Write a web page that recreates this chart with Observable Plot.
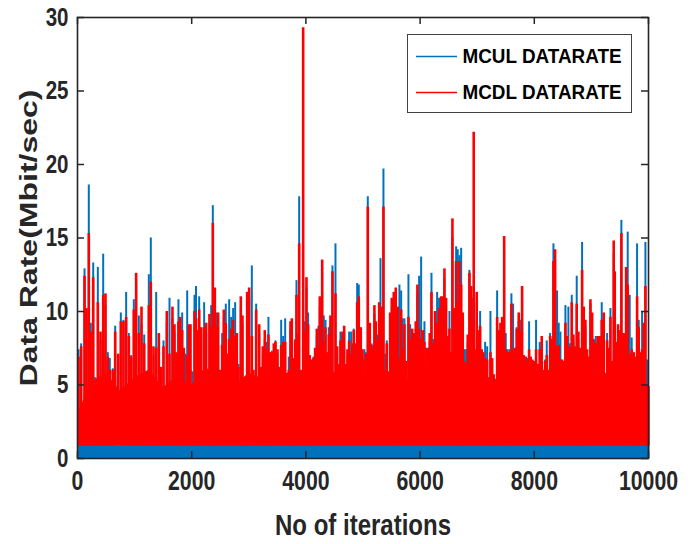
<!DOCTYPE html>
<html><head><meta charset="utf-8">
<script src="https://cdn.jsdelivr.net/npm/d3@7"></script>
<script src="https://cdn.jsdelivr.net/npm/@observablehq/plot@0.6"></script>
<style>body{margin:0;background:#fff}</style>
</head><body>
<script>
// x positions (iteration index) of the visible spikes
const iterations = [
  18,64,123,158,198,233,275,310,356,403,
  450,490,531,566,618,660,713,759,805,852,
  899,940,986,1027,1074,1121,1168,1208,1249,1284,
  1331,1378,1424,1465,1506,1564,1611,1663,1698,1733,
  1768,1798,1833,1862,1891,1921,1950,1979,2014,2049,
  2075,2096,2131,2166,2218,2253,2276,2311,2341,2370,
  2405,2434,2463,2498,2533,2562,2597,2627,2656,2691,
  2726,2761,2790,2819,2860,2889,2930,2971,3006,3053,
  3082,3129,3182,3217,3245,3280,3309,3344,3368,3403,
  3438,3467,3502,3532,3567,3602,3637,3672,3700,3730,
  3753,3782,3812,3835,3858,3882,3917,3952,3980,4010,
  4039,4068,4103,4132,4162,4191,4220,4243,4267,4285,
  4313,4343,4372,4401,4430,4465,4495,4518,4547,4576,
  4605,4640,4670,4699,4728,4757,4792,4815,4838,4868,
  4898,4926,4961,4990,5025,5049,5084,5119,5148,5178,
  5200,5224,5253,5283,5306,5329,5358,5388,5416,5446,
  5475,5504,5539,5574,5609,5638,5668,5696,5726,5755,
  5796,5826,5861,5896,5924,5953,5983,6018,6046,6076,
  6111,6141,6169,6199,6228,6263,6298,6333,6368,6397,
  6426,6455,6484,6514,6543,6566,6596,6631,6659,6689,
  6719,6747,6777,6806,6834,6864,6894,6922,6939,6964,
  6992,7022,7051,7079,7109,7139,7174,7202,7232,7261,
  7290,7319,7349,7378,7407,7437,7472,7500,7535,7570,
  7599,7629,7664,7692,7727,7757,7786,7815,7850,7880,
  7909,7937,7967,7996,8031,8060,8095,8130,8159,8189,
  8218,8247,8277,8305,8335,8364,8399,8428,8457,8487,
  8515,8545,8574,8597,8627,8656,8685,8715,8743,8772,
  8802,8837,8866,8895,8925,8953,8983,9013,9041,9076,
  9111,9146,9181,9216,9245,9275,9303,9333,9363,9391,
  9409,9438,9467,9496,9525,9555,9578,9608,9636,9671,
  9706,9741,9771,9800,9829,9858,9888,9917,9946,9975,
  9998
];
// MCUL (uplink) data rate at those iterations, Mbit/sec
const mculRate = [
  7.4,7.8,12.9,9.6,18.6,9.2,13.3,5.5,13.0,8.0,
  13.9,10.4,7.2,6.8,6.1,9.0,6.6,9.9,9.4,11.3,
  8.5,7.0,10.8,11.8,9.7,9.1,8.4,4.8,12.5,15.0,
  7.0,11.3,7.6,5.8,8.0,9.2,10.9,9.5,8.6,6.9,
  10.8,9.0,9.9,7.0,7.1,11.4,8.7,6.0,5.9,11.1,
  11.7,8.0,11.0,8.4,10.6,8.5,5.5,9.2,10.4,17.2,
  10.9,9.9,9.0,5.6,8.5,9.5,10.5,6.6,10.8,9.6,
  10.2,10.6,8.0,6.4,10.3,9.1,5.2,10.6,10.9,13.1,
  5.6,10.5,8.5,5.8,7.1,8.1,7.9,9.6,6.8,7.3,
  7.3,8.0,7.1,5.8,9.4,8.3,9.5,5.4,6.9,8.7,
  8.9,6.4,8.1,12.1,8.0,17.8,5.7,9.0,9.3,11.6,
  9.9,6.6,6.3,6.9,7.0,8.3,9.0,10.3,9.9,12.7,
  9.7,9.4,6.8,8.9,9.1,13.1,5.0,14.6,7.1,6.0,
  8.6,8.4,8.5,6.0,7.0,8.6,8.6,7.3,8.8,7.3,
  11.9,11.8,8.4,7.0,7.4,7.2,17.8,8.7,7.8,7.7,
  9.8,8.8,8.4,10.0,13.6,9.7,19.7,7.1,8.0,5.5,
  9.3,10.3,10.6,10.9,9.7,11.8,11.4,9.5,9.5,6.2,
  12.5,9.1,8.3,8.0,8.8,11.1,12.4,13.7,8.2,9.3,
  6.5,7.5,8.0,12.6,8.1,9.4,11.3,10.9,10.4,10.4,
  12.2,10.3,7.8,10.0,6.8,15.0,9.6,14.4,14.2,13.8,
  14.3,8.3,7.4,7.4,7.9,12.8,11.0,10.9,10.0,7.0,
  10.6,8.2,10.0,7.0,6.8,7.9,7.6,4.2,10.0,6.4,
  5.4,5.4,11.4,8.2,8.7,9.0,14.2,8.5,7.4,7.4,
  11.2,10.5,7.1,8.9,9.3,9.4,10.8,6.6,6.5,6.8,
  9.3,6.5,6.3,6.0,9.4,6.0,7.9,7.8,5.7,6.7,
  8.0,5.7,8.5,7.6,14.6,13.4,11.4,9.2,8.6,6.3,
  6.2,10.4,7.8,10.3,7.8,11.1,7.9,7.2,12.4,8.1,
  7.1,14.7,9.7,9.0,7.0,6.5,10.5,8.3,8.1,8.3,
  7.8,7.8,10.6,9.3,5.8,8.5,7.1,10.2,6.2,14.0,
  12.0,7.4,8.6,8.2,16.2,8.0,8.0,12.3,15.4,11.1,
  8.2,7.0,6.5,14.6,9.4,7.0,10.0,8.7,14.7,6.7,
  4.6
];
// MCDL (downlink) data rate at those iterations, Mbit/sec
const mcdlRate = [
  6.9,7.6,12.4,10.2,15.3,8.6,12.3,5.1,10.6,8.6,
  11.1,11.2,6.9,6.0,6.0,8.6,7.1,9.3,9.3,9.6,
  8.3,6.9,10.1,12.6,8.5,10.3,7.8,5.1,10.4,12.0,
  7.6,7.5,8.5,6.2,7.6,10.0,7.1,10.3,9.1,7.2,
  9.3,9.6,8.7,7.5,5.2,7.0,9.1,9.1,4.9,10.0,
  9.5,8.7,10.1,8.9,8.9,9.2,5.8,9.8,8.9,16.0,
  11.6,9.0,9.9,6.0,7.7,10.1,9.2,7.1,8.1,8.8,
  9.4,8.3,8.5,6.2,11.0,9.7,5.5,11.3,11.6,8.3,
  6.0,10.1,9.1,6.2,7.6,8.7,7.4,8.4,7.2,7.2,
  7.8,7.9,7.4,6.2,7.7,7.9,7.9,5.8,6.0,9.3,
  9.5,6.8,8.0,11.1,8.5,14.6,6.0,29.3,8.6,12.3,
  9.1,7.0,6.7,6.8,7.5,8.8,7.5,11.0,8.3,13.5,
  7.9,8.9,7.2,8.4,9.7,12.7,5.3,11.2,7.6,6.4,
  8.0,8.6,9.0,6.4,7.4,8.0,7.1,7.8,8.7,7.8,
  10.6,11.0,8.9,7.4,6.7,7.1,17.1,9.2,7.7,7.4,
  10.4,9.3,8.0,10.6,9.9,10.3,17.1,6.0,7.8,5.9,
  9.9,10.9,11.3,11.6,10.3,6.8,10.1,7.4,9.1,6.6,
  9.6,8.1,8.8,8.5,9.3,11.8,8.8,8.1,8.7,7.9,
  7.5,7.4,8.5,11.3,7.8,10.0,9.2,10.2,11.0,11.0,
  12.9,10.9,8.3,8.8,7.2,16.3,10.2,13.4,10.6,13.4,
  11.8,9.9,6.6,6.4,8.4,12.6,11.7,9.3,22.2,7.4,
  11.3,8.7,9.0,7.4,7.2,6.8,6.7,4.4,7.2,6.8,
  5.7,5.1,9.6,8.7,9.2,9.6,15.1,7.4,7.2,7.2,
  10.5,7.4,7.5,8.8,9.9,8.6,11.7,7.0,6.9,6.6,
  7.4,6.9,6.7,6.6,7.4,6.4,7.4,8.3,6.0,6.6,
  7.0,6.0,8.3,8.1,13.4,14.2,7.6,7.7,6.7,6.7,
  6.6,9.2,8.3,7.6,7.5,10.6,8.4,7.6,10.5,8.6,
  7.5,12.8,10.3,9.4,7.4,6.9,10.8,9.9,8.0,7.8,
  8.3,8.3,9.4,9.9,5.7,8.0,7.5,9.6,6.6,14.8,
  12.7,7.9,9.1,8.7,15.3,8.5,8.5,13.0,11.8,7.1,
  7.4,7.2,6.9,11.0,8.9,7.2,7.4,9.2,11.7,4.9,
  4.9
];
// dense lower envelope of both series, sampled every 250 iterations
const floorIterations = [
  0,250,500,750,1000,1250,1500,1750,2000,2250,
  2500,2750,3000,3250,3500,3750,4000,4250,4500,4750,
  5000,5250,5500,5750,6000,6250,6500,6750,7000,7250,
  7500,7750,8000,8250,8500,8750,9000,9250,9500,9750,
  10000
];
const mcdlFloor = [
  3.0,5.2,5.8,4.6,5.5,6.0,4.8,5.6,5.0,6.2,
  5.3,4.9,5.8,5.4,6.1,5.0,5.7,4.7,5.9,5.2,
  5.6,6.0,5.1,5.5,4.8,5.9,5.3,6.2,5.0,5.6,
  4.6,5.4,5.1,5.8,4.9,5.5,5.7,5.2,5.9,5.0,
  4.4
];
const mculFloor = [
  0.9,0.95,0.9,0.85,0.9,0.95,0.9,0.9,0.95,0.9,
  0.85,0.9,0.95,0.9,0.9,0.85,0.95,0.9,0.9,0.95,
  0.9,0.85,0.9,0.95,0.9,0.9,0.95,0.85,0.9,0.9,
  0.95,0.9,0.85,0.9,0.95,0.9,0.9,0.85,0.95,0.9,
  0.9
];
const mcdlMin = 0.85;

const xTicks = [0,2000,4000,6000,8000,10000];
const yTicks = [0,5,10,15,20,25,30];
const seriesNames = ["MCUL DATARATE","MCDL DATARATE"];
const xLabel = "No of iterations";
const yLabel = "Data Rate(Mbit/sec)";

const spikes = iterations.map((it, i) => ({it, ul: mculRate[i], dl: mcdlRate[i]}));
const floors = floorIterations.map((it, i) => ({it, ul: mculFloor[i], dl: mcdlFloor[i]}));

const BLUE = "#0072BD", RED = "#FF0000", INK = "#262626";
const FONT = '"Liberation Sans", Arial, Helvetica, sans-serif';
const legendLine = {draw(ctx) { ctx.moveTo(-20.5, 0); ctx.lineTo(20.5, 0); }};

const chart = Plot.plot({
  width: 695, height: 544,
  marginLeft: 77, marginRight: 47, marginTop: 17, marginBottom: 86,
  x: {domain: [0, 10000]},
  y: {domain: [0, 30]},
  style: {fontFamily: FONT, background: "white", color: INK},
  marks: [
    Plot.areaY(floors, {x: "it", y1: 0, y2: "ul", fill: BLUE}),
    Plot.ruleX(spikes, {x: "it", y1: 0, y2: "ul", stroke: BLUE, strokeWidth: 2.0}),
    Plot.areaY(floors, {x: "it", y1: mcdlMin, y2: "dl", fill: RED}),
    Plot.ruleX(spikes, {x: "it", y1: mcdlMin, y2: "dl", stroke: RED, strokeWidth: 2.6}),
    Plot.frame({stroke: INK, strokeWidth: 1.6}),
    Plot.tickY(yTicks, {insetRight: 564, stroke: INK, strokeWidth: 1.5}),
    Plot.tickY(yTicks, {insetLeft: 564, stroke: INK, strokeWidth: 1.5}),
    Plot.tickX(xTicks, {insetTop: 434, stroke: INK, strokeWidth: 1.5}),
    Plot.tickX(xTicks, {insetBottom: 434, stroke: INK, strokeWidth: 1.5}),
    Plot.axisX(xTicks, {tickSize: 0, tickPadding: 12, tickFormat: d => String(d), fontSize: 28, fontWeight: "bold", fill: INK, label: null}),
    Plot.axisY(yTicks, {tickSize: 0, tickPadding: 9, tickFormat: d => String(d), fontSize: 25, fontWeight: "bold", fill: INK, label: null}),
    Plot.text([xLabel], {text: d => d, frameAnchor: "bottom", dy: 67, textAnchor: "middle", lineAnchor: "middle", fontSize: 30, fontWeight: "bold", fill: INK}),
    Plot.text([yLabel], {text: d => d, frameAnchor: "left", dx: -48, rotate: -90, textAnchor: "middle", lineAnchor: "middle", fontSize: 24, fontWeight: "bold", fill: INK}),
    Plot.frame({insetLeft: 330, insetRight: 17, insetTop: 17, insetBottom: 346, fill: "white", stroke: "#404040", strokeWidth: 1}),
    Plot.dot([seriesNames[0]], {frameAnchor: "top-right", dx: -212, dy: 39, symbol: legendLine, stroke: BLUE, strokeWidth: 1.5}),
    Plot.dot([seriesNames[1]], {frameAnchor: "top-right", dx: -212, dy: 75, symbol: legendLine, stroke: RED, strokeWidth: 1.5}),
    Plot.text([seriesNames[0]], {text: d => d, frameAnchor: "top-right", dx: -186, dy: 39, textAnchor: "start", lineAnchor: "middle", fontSize: 20, fontWeight: "bold", fill: "black"}),
    Plot.text([seriesNames[1]], {text: d => d, frameAnchor: "top-right", dx: -186, dy: 75, textAnchor: "start", lineAnchor: "middle", fontSize: 20, fontWeight: "bold", fill: "black"})
  ]
});
document.body.appendChild(chart);

function fit(t, target) {
  const w = t.getComputedTextLength();
  const len = typeof target === "function" ? target(w) : target;
  t.setAttribute("textLength", len.toFixed(2));
  t.setAttribute("lengthAdjust", "spacingAndGlyphs");
}
chart.querySelectorAll('g[aria-label="x-axis tick label"] text').forEach(t => fit(t, w => w * 0.76));
chart.querySelectorAll('g[aria-label="y-axis tick label"] text').forEach(t => fit(t, w => w * 0.82));
chart.querySelectorAll("text").forEach(t => {
  const s = t.textContent;
  if (s === xLabel) fit(t, 176);
  else if (s === yLabel) fit(t, 297);
  else if (seriesNames.includes(s)) fit(t, 159);
});
</script>
</body></html>
